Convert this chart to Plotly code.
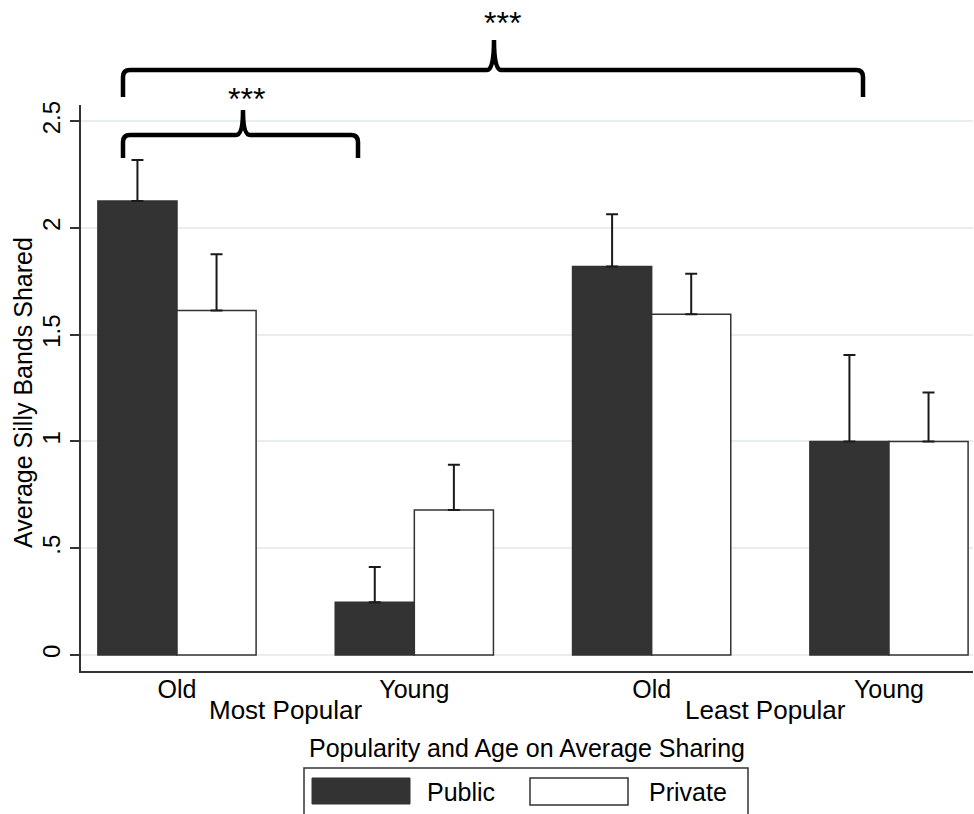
import plotly.graph_objects as go

# ---------------- data ----------------
groups = [1, 2, 3, 4]
age_labels = ["Old", "Young", "Old", "Young"]
popularity_labels = ["Most Popular", "Least Popular"]
popularity_pos = [1.46, 3.48]
public_mean = [2.126, 0.247, 1.819, 1.0]
public_se = [0.192, 0.165, 0.245, 0.405]
private_mean = [1.613, 0.679, 1.596, 1.0]
private_se = [0.264, 0.212, 0.190, 0.230]
y_tickvals = [0, 0.5, 1, 1.5, 2, 2.5]
y_ticktext = ["0", ".5", "1", "1.5", "2", "2.5"]
series_names = ["Public", "Private"]
x_title = "Popularity and Age on Average Sharing"
y_title = "Average Silly Bands Shared"
sig_label = "***"

# ---------------- layout geometry ----------------
W, H = 974, 814
ML, MR, MT, MB = 81, 1, 105, 143
PW, PH = W - ML - MR, H - MT - MB


def px(x):
    return (x - ML) / PW


def py(y):
    return (H - MB - y) / PH


FONT = "Liberation Sans, Arial, Helvetica, sans-serif"
DARK = "#333333"
LINE = "#333333"

fig = go.Figure()
fig.add_trace(go.Bar(
    x=groups, y=public_mean, name=series_names[0],
    marker=dict(color=DARK, line=dict(color=DARK, width=1.5)),
    error_y=dict(type="data", symmetric=False, array=public_se,
                 arrayminus=[0] * len(public_se), color="#1a1a1a",
                 thickness=2, width=6),
    showlegend=False,
))
fig.add_trace(go.Bar(
    x=groups, y=private_mean, name=series_names[1],
    marker=dict(color="white", line=dict(color=DARK, width=1.5)),
    error_y=dict(type="data", symmetric=False, array=private_se,
                 arrayminus=[0] * len(private_se), color="#1a1a1a",
                 thickness=2, width=6),
    showlegend=False,
))

shapes = []


def brace(x0, x1, xc, y_leg, y_bar, y_peak):
    r = 7
    d = (f"M {px(x0)},{py(y_leg)} L {px(x0)},{py(y_bar + r)} "
         f"Q {px(x0)},{py(y_bar)} {px(x0 + r)},{py(y_bar)} "
         f"L {px(xc - 7)},{py(y_bar)} Q {px(xc)},{py(y_bar)} {px(xc)},{py(y_peak)} "
         f"Q {px(xc)},{py(y_bar)} {px(xc + 7)},{py(y_bar)} "
         f"L {px(x1 - r)},{py(y_bar)} Q {px(x1)},{py(y_bar)} {px(x1)},{py(y_bar + r)} "
         f"L {px(x1)},{py(y_leg)}")
    return dict(type="path", xref="paper", yref="paper", path=d,
                line=dict(color="black", width=4.5), layer="above")


shapes.append(brace(123, 863, 494, 97, 70, 40))
shapes.append(brace(123, 358, 243, 158, 135, 110))

# legend box and swatches
shapes.append(dict(type="rect", xref="paper", yref="paper",
                   x0=px(304), x1=px(748), y0=py(822), y1=py(768),
                   line=dict(color=LINE, width=1.5), fillcolor="rgba(0,0,0,0)"))
shapes.append(dict(type="rect", xref="paper", yref="paper",
                   x0=px(312), x1=px(410), y0=py(804), y1=py(778),
                   line=dict(color=DARK, width=1), fillcolor=DARK))
shapes.append(dict(type="rect", xref="paper", yref="paper",
                   x0=px(530), x1=px(628), y0=py(805), y1=py(778),
                   line=dict(color=LINE, width=1.5), fillcolor="white"))

annotations = []
for lab, xpos in zip(popularity_labels, popularity_pos):
    annotations.append(dict(text=lab, x=xpos, xref="x", y=py(710), yref="paper",
                            showarrow=False, xanchor="center", yanchor="middle",
                            font=dict(size=26, color="black", family=FONT)))
annotations.append(dict(text=x_title, x=px(527), xref="paper", y=py(748), yref="paper",
                        showarrow=False, xanchor="center", yanchor="middle",
                        font=dict(size=25, color="black", family=FONT)))
annotations.append(dict(text=y_title, x=px(23), xref="paper", y=py(393), yref="paper",
                        showarrow=False, xanchor="center", yanchor="middle", textangle=-90,
                        font=dict(size=25, color="black", family=FONT)))
annotations.append(dict(text=series_names[0], x=px(425), xref="paper", y=py(792), yref="paper",
                        showarrow=False, xanchor="left", yanchor="middle",
                        font=dict(size=25, color="black", family=FONT)))
annotations.append(dict(text=series_names[1], x=px(647), xref="paper", y=py(792), yref="paper",
                        showarrow=False, xanchor="left", yanchor="middle",
                        font=dict(size=25, color="black", family=FONT)))
annotations.append(dict(text=sig_label, x=px(502), xref="paper", y=py(23), yref="paper",
                        showarrow=False, xanchor="center", yanchor="middle",
                        font=dict(size=32, color="black", family=FONT)))
annotations.append(dict(text=sig_label, x=px(246), xref="paper", y=py(99), yref="paper",
                        showarrow=False, xanchor="center", yanchor="middle",
                        font=dict(size=32, color="black", family=FONT)))

fig.update_layout(
    width=W, height=H,
    margin=dict(l=ML, r=MR, t=MT, b=MB, pad=0),
    paper_bgcolor="white", plot_bgcolor="white",
    barmode="group", bargap=1 / 3, bargroupgap=0,
    shapes=shapes, annotations=annotations,
    font=dict(family=FONT, size=25, color="black"),
    showlegend=False,
)
fig.update_xaxes(
    range=[0.5955, 4.354], tickmode="array", tickvals=groups, ticktext=age_labels,
    showgrid=False, zeroline=False, showline=True, linecolor=LINE, linewidth=1.5,
    ticks="", tickfont=dict(size=25, family=FONT, color="black"), ticklabelstandoff=-5,
)
fig.update_yaxes(
    range=[-0.075, 2.576], tickmode="array", tickvals=y_tickvals, ticktext=y_ticktext,
    tickangle=-90, showgrid=True, gridcolor="#e8eef0", gridwidth=2,
    zeroline=False, showline=True, linecolor=LINE, linewidth=1.5,
    ticks="outside", ticklen=9, tickwidth=1.5, tickcolor=LINE,
    tickfont=dict(size=24, family=FONT, color="black"), ticklabelstandoff=1,
)

fig.write_html("out.html", config={"displayModeBar": False},
               post_script="document.body.style.margin='0';document.body.style.overflow='hidden';")
